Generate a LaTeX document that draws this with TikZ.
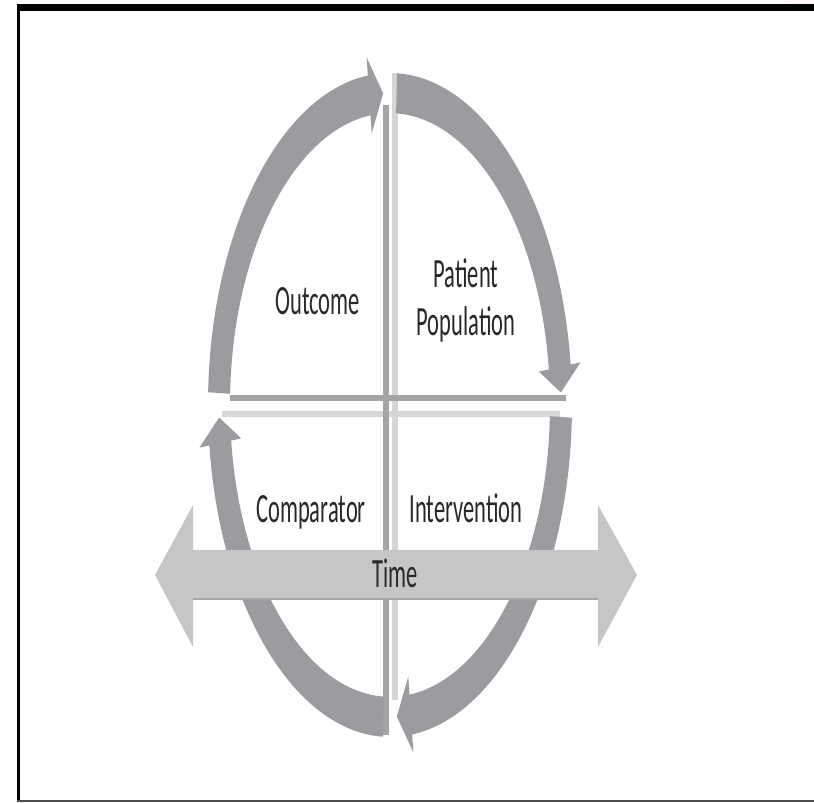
\documentclass[tikz,border=0pt]{standalone}
\usepackage{fontspec}
\setmainfont{Carlito}
\usepackage{graphicx}

\definecolor{ringgray}{RGB}{155,156,160}
\definecolor{darkband}{RGB}{165,165,168}
\definecolor{lightband}{RGB}{214,214,216}
\definecolor{timegray}{RGB}{198,198,200}
\definecolor{timeedge}{RGB}{165,165,168}
\definecolor{labelgray}{RGB}{40,40,40}

% labels are drawn stretched upwards
\newcommand{\tall}[1]{\scalebox{1}[1.85]{#1}}

\begin{document}
\begin{tikzpicture}[x=1pt, y=1pt,
  ring/.style={fill=ringgray},
  darkedge/.style={draw=darkband, line width=6pt},
  lightedge/.style={draw=lightband, line width=6pt},
  quadlabel/.style={text=labelgray, font=\fontsize{22.5}{26}\selectfont, inner sep=0pt}]
  \useasboundingbox (0,0) rectangle (814,803);

  % Frame
  \fill[pink!15] (785,799) rectangle (814,803);
  \draw[line width=7pt] (18,795.5) -- (814,795.5);
  \draw[line width=3pt] (18.5,799) -- (18.5,1);
  \draw[line width=2pt, black!70] (17,2) -- (814,2);

  % Define the edges between the quadrants
  \coordinate (TL) at (230,404.5);
  \coordinate (TR) at (566,404.5);
  \coordinate (BL) at (222,389);
  \coordinate (BR) at (560,389);
  \coordinate (NL) at (386,698);
  \coordinate (SL) at (386,68);
  \coordinate (NR) at (394.5,730);
  \coordinate (SR) at (394.5,103);

  % Draw the quadrant edges
  \draw[lightedge] (BL) -- (BR);
  \draw[lightedge] (NR) -- (SR);
  \draw[darkedge] (TL) -- (TR);
  \draw[darkedge] (NL) -- (SL);

  % Draw the four ring arrows
  \begin{scope}[shift={(390,398)}, yscale=1.824]
    \foreach \k in {0,1,2,3}
      \fill[ring, rotate=-90*\k]
        (177.8:182) arc[start angle=177.8, end angle=97, radius=182]
        -- (97:192) -- (92.3:171) -- (97:150)
        -- (97:160) arc[start angle=97, end angle=177.8, radius=160] -- cycle;
  \end{scope}

  % Draw the time arrow
  \coordinate (past) at (155,228);
  \coordinate (future) at (637,228);
  \fill[timegray] (past) -- (193,298) -- (193,253) -- (598,253) -- (598,298)
    -- (future) -- (598,156) -- (598,203) -- (193,203) -- (193,156) -- cycle;
  \draw[timeedge, line width=2pt] (193,204) -- (598,204);

  % Label the quadrants
  \node[quadlabel, anchor=base] (outcome) at (317.5,488) {\tall{Outcome}};
  \node[quadlabel] (patient) at (466,501)
    {\tall{\begin{tabular}{@{}c@{}}Patient\\Population\end{tabular}}};
  \node[quadlabel, anchor=base] (comparator) at (311,280) {\tall{Comparator}};
  \node[quadlabel, anchor=base] (intervention) at (466,280) {\tall{Intervention}};
  \node[quadlabel, anchor=base] (time) at (395,215) {\tall{Time}};
\end{tikzpicture}
\end{document}
